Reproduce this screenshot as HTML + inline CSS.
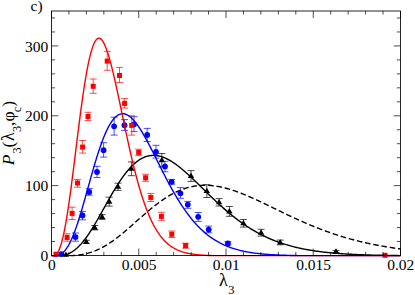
<!DOCTYPE html>
<html><head><meta charset="utf-8"><title>c</title><style>html,body{margin:0;padding:0;background:#fff;overflow:hidden;font-family:"Liberation Serif",serif}svg{display:block}</style></head><body>
<svg width="415" height="295" viewBox="0 0 415 295">
<rect width="415" height="295" fill="#fff"/>
<path d="M51.50,255.60 L52.37,255.60 L53.24,255.60 L54.12,255.60 L54.99,255.60 L55.86,255.60 L56.73,255.60 L57.61,255.60 L58.48,255.60 L59.35,255.60 L60.23,255.60 L61.10,255.60 L61.97,255.60 L62.84,255.60 L63.72,255.60 L64.59,255.60 L65.46,255.60 L66.33,255.60 L67.20,255.60 L68.08,255.60 L68.95,255.60 L69.82,255.60 L70.70,255.60 L71.57,255.60 L72.44,255.59 L73.31,255.53 L74.19,255.47 L75.06,255.40 L75.93,255.32 L76.80,255.23 L77.67,255.13 L78.55,255.03 L79.42,254.91 L80.29,254.79 L81.17,254.65 L82.04,254.51 L82.91,254.35 L83.78,254.18 L84.66,254.00 L85.53,253.81 L86.40,253.60 L87.27,253.39 L88.15,253.16 L89.02,252.91 L89.89,252.66 L90.76,252.38 L91.64,252.10 L92.51,251.80 L93.38,251.49 L94.25,251.16 L95.12,250.82 L96.00,250.47 L96.87,250.10 L97.74,249.71 L98.62,249.31 L99.49,248.90 L100.36,248.47 L101.23,248.03 L102.11,247.58 L102.98,247.11 L103.85,246.63 L104.72,246.13 L105.59,245.62 L106.47,245.09 L107.34,244.56 L108.21,244.01 L109.09,243.44 L109.96,242.87 L110.83,242.28 L111.70,241.68 L112.57,241.07 L113.45,240.45 L114.32,239.82 L115.19,239.17 L116.06,238.52 L116.94,237.86 L117.81,237.18 L118.68,236.50 L119.56,235.81 L120.43,235.11 L121.30,234.41 L122.17,233.69 L123.05,232.97 L123.92,232.24 L124.79,231.51 L125.66,230.77 L126.53,230.02 L127.41,229.27 L128.28,228.52 L129.15,227.76 L130.03,227.00 L130.90,226.23 L131.77,225.46 L132.64,224.69 L133.51,223.92 L134.39,223.15 L135.26,222.37 L136.13,221.60 L137.00,220.82 L137.88,220.05 L138.75,219.28 L139.62,218.50 L140.50,217.73 L141.37,216.97 L142.24,216.20 L143.11,215.44 L143.99,214.68 L144.86,213.92 L145.73,213.17 L146.60,212.43 L147.48,211.69 L148.35,210.95 L149.22,210.22 L150.09,209.50 L150.97,208.78 L151.84,208.07 L152.71,207.36 L153.58,206.67 L154.46,205.98 L155.33,205.30 L156.20,204.62 L157.07,203.96 L157.95,203.30 L158.82,202.66 L159.69,202.02 L160.56,201.39 L161.44,200.78 L162.31,200.17 L163.18,199.57 L164.05,198.99 L164.93,198.41 L165.80,197.85 L166.67,197.29 L167.54,196.75 L168.42,196.22 L169.29,195.70 L170.16,195.20 L171.03,194.70 L171.91,194.22 L172.78,193.75 L173.65,193.29 L174.52,192.84 L175.40,192.41 L176.27,191.99 L177.14,191.58 L178.01,191.18 L178.89,190.80 L179.76,190.43 L180.63,190.07 L181.50,189.73 L182.38,189.40 L183.25,189.08 L184.12,188.78 L184.99,188.48 L185.87,188.20 L186.74,187.94 L187.61,187.68 L188.48,187.44 L189.36,187.22 L190.23,187.00 L191.10,186.80 L191.97,186.61 L192.84,186.44 L193.72,186.27 L194.59,186.12 L195.46,185.98 L196.34,185.86 L197.21,185.75 L198.08,185.64 L198.95,185.56 L199.82,185.48 L200.70,185.41 L201.57,185.36 L202.44,185.32 L203.32,185.29 L204.19,185.28 L205.06,185.27 L205.93,185.28 L206.81,185.29 L207.68,185.32 L208.55,185.36 L209.42,185.41 L210.29,185.47 L211.17,185.54 L212.04,185.62 L212.91,185.71 L213.78,185.82 L214.66,185.93 L215.53,186.05 L216.40,186.18 L217.28,186.32 L218.15,186.47 L219.02,186.63 L219.89,186.80 L220.77,186.98 L221.64,187.17 L222.51,187.36 L223.38,187.56 L224.25,187.78 L225.13,188.00 L226.00,188.22 L226.87,188.46 L227.75,188.70 L228.62,188.95 L229.49,189.21 L230.36,189.47 L231.24,189.75 L232.11,190.02 L232.98,190.31 L233.85,190.60 L234.72,190.90 L235.60,191.20 L236.47,191.51 L237.34,191.83 L238.22,192.15 L239.09,192.47 L239.96,192.81 L240.83,193.14 L241.71,193.48 L242.58,193.83 L243.45,194.18 L244.32,194.54 L245.20,194.90 L246.07,195.26 L246.94,195.63 L247.81,196.00 L248.69,196.38 L249.56,196.76 L250.43,197.14 L251.30,197.53 L252.17,197.91 L253.05,198.31 L253.92,198.70 L254.79,199.10 L255.67,199.50 L256.54,199.90 L257.41,200.31 L258.28,200.71 L259.15,201.12 L260.03,201.53 L260.90,201.95 L261.77,202.36 L262.65,202.78 L263.52,203.19 L264.39,203.61 L265.26,204.03 L266.13,204.45 L267.01,204.87 L267.88,205.30 L268.75,205.72 L269.62,206.14 L270.50,206.57 L271.37,206.99 L272.24,207.42 L273.12,207.84 L273.99,208.27 L274.86,208.69 L275.73,209.12 L276.61,209.54 L277.48,209.97 L278.35,210.39 L279.22,210.82 L280.10,211.24 L280.97,211.66 L281.84,212.09 L282.71,212.51 L283.59,212.93 L284.46,213.35 L285.33,213.76 L286.20,214.18 L287.08,214.60 L287.95,215.01 L288.82,215.43 L289.69,215.84 L290.57,216.25 L291.44,216.66 L292.31,217.07 L293.18,217.47 L294.06,217.88 L294.93,218.28 L295.80,218.68 L296.67,219.08 L297.55,219.48 L298.42,219.87 L299.29,220.27 L300.16,220.66 L301.04,221.05 L301.91,221.44 L302.78,221.82 L303.65,222.21 L304.52,222.59 L305.40,222.96 L306.27,223.34 L307.14,223.72 L308.02,224.09 L308.89,224.46 L309.76,224.82 L310.63,225.19 L311.50,225.55 L312.38,225.91 L313.25,226.27 L314.12,226.62 L315.00,226.97 L315.87,227.32 L316.74,227.67 L317.61,228.01 L318.49,228.36 L319.36,228.69 L320.23,229.03 L321.10,229.36 L321.98,229.70 L322.85,230.02 L323.72,230.35 L324.59,230.67 L325.47,230.99 L326.34,231.31 L327.21,231.62 L328.08,231.94 L328.96,232.25 L329.83,232.55 L330.70,232.86 L331.57,233.16 L332.44,233.45 L333.32,233.75 L334.19,234.04 L335.06,234.33 L335.94,234.62 L336.81,234.90 L337.68,235.18 L338.55,235.46 L339.43,235.74 L340.30,236.01 L341.17,236.28 L342.04,236.55 L342.91,236.82 L343.79,237.08 L344.66,237.34 L345.53,237.59 L346.41,237.85 L347.28,238.10 L348.15,238.35 L349.02,238.60 L349.90,238.84 L350.77,239.08 L351.64,239.32 L352.51,239.55 L353.38,239.79 L354.26,240.02 L355.13,240.24 L356.00,240.47 L356.88,240.69 L357.75,240.91 L358.62,241.13 L359.49,241.35 L360.37,241.56 L361.24,241.77 L362.11,241.98 L362.98,242.18 L363.86,242.38 L364.73,242.58 L365.60,242.78 L366.47,242.98 L367.35,243.17 L368.22,243.36 L369.09,243.55 L369.96,243.73 L370.84,243.92 L371.71,244.10 L372.58,244.28 L373.45,244.46 L374.32,244.63 L375.20,244.80 L376.07,244.97 L376.94,245.14 L377.81,245.31 L378.69,245.47 L379.56,245.63 L380.43,245.79 L381.31,245.95 L382.18,246.10 L383.05,246.26 L383.92,246.41 L384.80,246.56 L385.67,246.70 L386.54,246.85 L387.41,246.99 L388.29,247.13 L389.16,247.27 L390.03,247.41 L390.90,247.55 L391.77,247.68 L392.65,247.81 L393.52,247.94 L394.39,248.07 L395.27,248.20 L396.14,248.32 L397.01,248.44 L397.88,248.57 L398.76,248.69 L399.63,248.80 L400.50,248.92" stroke="#000" fill="none" stroke-width="1.4" stroke-linejoin="round" stroke-dasharray="5.6 2.79" stroke-dashoffset="6.8"/>
<path d="M86.3,240.3V243.5M82.8,240.3h7M82.8,243.5h7M94.8,225.5V229.9M91.3,225.5h7M91.3,229.9h7M102.1,214.6V219.4M98.6,214.6h7M98.6,219.4h7M109.2,197.2V206.1M105.7,197.2h7M105.7,206.1h7M118.0,183.2V190.4M114.5,183.2h7M114.5,190.4h7M131.4,161.9V175.7M127.9,161.9h7M127.9,175.7h7M161.8,153.5V167.0M158.3,153.5h7M158.3,167.0h7M191.0,170.6V181.4M187.5,170.6h7M187.5,181.4h7M206.8,184.7V197.5M203.3,184.7h7M203.3,197.5h7M219.1,198.6V206.0M215.6,198.6h7M215.6,206.0h7M229.4,206.5V216.3M225.9,206.5h7M225.9,216.3h7M243.4,219.5V227.1M239.9,219.5h7M239.9,227.1h7M261.1,229.3V236.1M257.6,229.3h7M257.6,236.1h7M280.2,240.1V244.8M276.8,240.1h7M276.8,244.8h7M336.0,250.4V252.8M332.5,250.4h7M332.5,252.8h7" stroke="#000" stroke-width="0.7" fill="none"/>
<g fill="#000"><path d="M65.9,251.4l3.2,5.4h-6.4z"/><path d="M86.3,238.5l3.2,5.4h-6.4z"/><path d="M94.8,224.3l3.2,5.4h-6.4z"/><path d="M102.1,213.6l3.2,5.4h-6.4z"/><path d="M109.2,198.3l3.2,5.4h-6.4z"/><path d="M118.0,183.4l3.2,5.4h-6.4z"/><path d="M131.4,165.4l3.2,5.4h-6.4z"/><path d="M161.8,156.8l3.2,5.4h-6.4z"/><path d="M191.0,172.6l3.2,5.4h-6.4z"/><path d="M206.8,187.7l3.2,5.4h-6.4z"/><path d="M219.1,198.9l3.2,5.4h-6.4z"/><path d="M229.4,208.0l3.2,5.4h-6.4z"/><path d="M243.4,219.9l3.2,5.4h-6.4z"/><path d="M261.1,229.3l3.2,5.4h-6.4z"/><path d="M280.2,239.0l3.2,5.4h-6.4z"/><path d="M336.0,248.2l3.2,5.4h-6.4z"/></g>
<path d="M75.5,233.0V241.2M72.0,233.0h7M72.0,241.2h7M82.5,211.4V219.8M79.0,211.4h7M79.0,219.8h7M89.2,188.6V195.2M85.7,188.6h7M85.7,195.2h7M97.0,166.3V177.5M93.5,166.3h7M93.5,177.5h7M103.6,142.7V157.1M100.1,142.7h7M100.1,157.1h7M114.1,117.2V135.1M110.6,117.2h7M110.6,135.1h7M124.5,119.6V130.4M121.0,119.6h7M121.0,130.4h7M134.0,116.7V131.6M130.5,116.7h7M130.5,131.6h7M147.2,128.4V141.5M143.7,128.4h7M143.7,141.5h7M156.0,145.3V158.1M152.5,145.3h7M152.5,158.1h7M165.0,161.3V171.8M161.5,161.3h7M161.5,171.8h7M171.7,179.4V184.2M168.2,179.4h7M168.2,184.2h7M180.4,187.6V198.3M176.9,187.6h7M176.9,198.3h7M187.8,201.4V208.3M184.3,201.4h7M184.3,208.3h7M198.2,212.5V221.4M194.7,212.5h7M194.7,221.4h7M208.7,226.1V232.8M205.2,226.1h7M205.2,232.8h7M227.9,241.8V245.0M224.4,241.8h7M224.4,245.0h7" stroke="#00f" stroke-width="0.7" fill="none"/>
<g fill="#00f"><circle cx="61.2" cy="254.1" r="2.9"/><circle cx="75.5" cy="237.1" r="2.9"/><circle cx="82.5" cy="215.4" r="2.9"/><circle cx="89.2" cy="192.0" r="2.9"/><circle cx="97.0" cy="171.9" r="2.9"/><circle cx="103.6" cy="150.2" r="2.9"/><circle cx="114.1" cy="126.3" r="2.9"/><circle cx="124.5" cy="125.2" r="2.9"/><circle cx="134.0" cy="124.3" r="2.9"/><circle cx="147.2" cy="135.0" r="2.9"/><circle cx="156.0" cy="151.9" r="2.9"/><circle cx="165.0" cy="166.4" r="2.9"/><circle cx="171.7" cy="181.8" r="2.9"/><circle cx="180.4" cy="193.3" r="2.9"/><circle cx="187.8" cy="204.6" r="2.9"/><circle cx="198.2" cy="216.8" r="2.9"/><circle cx="208.7" cy="229.6" r="2.9"/><circle cx="227.9" cy="243.4" r="2.9"/></g>
<path d="M67.1,233.8V241.2M63.6,233.8h7M63.6,241.2h7M72.1,207.2V219.5M68.6,207.2h7M68.6,219.5h7M77.5,179.4V187.2M74.0,179.4h7M74.0,187.2h7M82.6,140.5V153.1M79.1,140.5h7M79.1,153.1h7M88.0,112.3V120.6M84.5,112.3h7M84.5,120.6h7M93.2,79.0V93.3M89.7,79.0h7M89.7,93.3h7M107.2,51.4V70.3M103.7,51.4h7M103.7,70.3h7M119.5,67.4V82.6M116.0,67.4h7M116.0,82.6h7M124.6,98.6V108.1M121.1,98.6h7M121.1,108.1h7M131.7,115.8V135.1M128.2,115.8h7M128.2,135.1h7M138.7,149.2V155.4M135.2,149.2h7M135.2,155.4h7M145.6,174.3V181.3M142.1,174.3h7M142.1,181.3h7M150.8,193.4V201.5M147.3,193.4h7M147.3,201.5h7M161.4,212.3V220.3M157.9,212.3h7M157.9,220.3h7M171.8,231.0V237.5M168.3,231.0h7M168.3,237.5h7M185.6,243.2V248.2M182.1,243.2h7M182.1,248.2h7" stroke="#f00" stroke-width="0.7" fill="none"/>
<g fill="#f00"><rect x="53.5" y="251.7" width="5" height="5"/><rect x="64.6" y="235.0" width="5" height="5"/><rect x="69.6" y="210.9" width="5" height="5"/><rect x="75.0" y="180.5" width="5" height="5"/><rect x="80.1" y="144.6" width="5" height="5"/><rect x="85.5" y="114.0" width="5" height="5"/><rect x="90.7" y="83.8" width="5" height="5"/><rect x="104.7" y="58.6" width="5" height="5"/><rect x="117.0" y="73.0" width="5" height="5"/><rect x="122.1" y="100.9" width="5" height="5"/><rect x="129.2" y="122.9" width="5" height="5"/><rect x="136.2" y="149.9" width="5" height="5"/><rect x="143.1" y="175.3" width="5" height="5"/><rect x="148.3" y="194.9" width="5" height="5"/><rect x="158.9" y="213.9" width="5" height="5"/><rect x="169.3" y="231.8" width="5" height="5"/><rect x="183.1" y="243.1" width="5" height="5"/><rect x="382.5" y="252.8" width="5" height="5"/></g>
<path d="M51.50,255.60 L52.37,255.60 L53.24,255.60 L54.12,255.60 L54.99,255.60 L55.86,255.60 L56.73,255.60 L57.61,255.60 L58.48,255.60 L59.35,255.60 L60.23,255.60 L61.10,255.55 L61.97,255.43 L62.84,255.28 L63.72,255.11 L64.59,254.91 L65.46,254.68 L66.33,254.42 L67.20,254.12 L68.08,253.79 L68.95,253.42 L69.82,253.01 L70.70,252.56 L71.57,252.07 L72.44,251.54 L73.31,250.96 L74.19,250.35 L75.06,249.69 L75.93,248.98 L76.80,248.24 L77.67,247.45 L78.55,246.62 L79.42,245.74 L80.29,244.83 L81.17,243.87 L82.04,242.87 L82.91,241.83 L83.78,240.75 L84.66,239.64 L85.53,238.48 L86.40,237.29 L87.27,236.07 L88.15,234.81 L89.02,233.53 L89.89,232.21 L90.76,230.86 L91.64,229.49 L92.51,228.09 L93.38,226.66 L94.25,225.22 L95.12,223.75 L96.00,222.27 L96.87,220.77 L97.74,219.25 L98.62,217.72 L99.49,216.18 L100.36,214.63 L101.23,213.08 L102.11,211.51 L102.98,209.95 L103.85,208.38 L104.72,206.81 L105.59,205.24 L106.47,203.68 L107.34,202.12 L108.21,200.57 L109.09,199.03 L109.96,197.49 L110.83,195.97 L111.70,194.46 L112.57,192.96 L113.45,191.48 L114.32,190.02 L115.19,188.58 L116.06,187.15 L116.94,185.75 L117.81,184.37 L118.68,183.01 L119.56,181.68 L120.43,180.38 L121.30,179.10 L122.17,177.85 L123.05,176.62 L123.92,175.43 L124.79,174.27 L125.66,173.14 L126.53,172.03 L127.41,170.97 L128.28,169.93 L129.15,168.93 L130.03,167.97 L130.90,167.03 L131.77,166.14 L132.64,165.27 L133.51,164.45 L134.39,163.66 L135.26,162.90 L136.13,162.18 L137.00,161.50 L137.88,160.86 L138.75,160.25 L139.62,159.68 L140.50,159.14 L141.37,158.65 L142.24,158.18 L143.11,157.76 L143.99,157.37 L144.86,157.01 L145.73,156.70 L146.60,156.41 L147.48,156.17 L148.35,155.95 L149.22,155.78 L150.09,155.63 L150.97,155.52 L151.84,155.45 L152.71,155.40 L153.58,155.39 L154.46,155.41 L155.33,155.46 L156.20,155.55 L157.07,155.66 L157.95,155.80 L158.82,155.98 L159.69,156.18 L160.56,156.41 L161.44,156.66 L162.31,156.95 L163.18,157.26 L164.05,157.59 L164.93,157.96 L165.80,158.34 L166.67,158.75 L167.54,159.18 L168.42,159.64 L169.29,160.11 L170.16,160.61 L171.03,161.13 L171.91,161.67 L172.78,162.23 L173.65,162.80 L174.52,163.40 L175.40,164.01 L176.27,164.64 L177.14,165.28 L178.01,165.94 L178.89,166.62 L179.76,167.30 L180.63,168.01 L181.50,168.72 L182.38,169.45 L183.25,170.19 L184.12,170.93 L184.99,171.69 L185.87,172.46 L186.74,173.24 L187.61,174.03 L188.48,174.83 L189.36,175.63 L190.23,176.44 L191.10,177.26 L191.97,178.08 L192.84,178.91 L193.72,179.74 L194.59,180.58 L195.46,181.42 L196.34,182.27 L197.21,183.11 L198.08,183.97 L198.95,184.82 L199.82,185.67 L200.70,186.53 L201.57,187.39 L202.44,188.24 L203.32,189.10 L204.19,189.96 L205.06,190.82 L205.93,191.67 L206.81,192.53 L207.68,193.38 L208.55,194.23 L209.42,195.08 L210.29,195.92 L211.17,196.76 L212.04,197.60 L212.91,198.44 L213.78,199.27 L214.66,200.10 L215.53,200.92 L216.40,201.74 L217.28,202.56 L218.15,203.37 L219.02,204.17 L219.89,204.97 L220.77,205.76 L221.64,206.55 L222.51,207.33 L223.38,208.11 L224.25,208.88 L225.13,209.64 L226.00,210.40 L226.87,211.15 L227.75,211.89 L228.62,212.63 L229.49,213.35 L230.36,214.08 L231.24,214.79 L232.11,215.50 L232.98,216.20 L233.85,216.89 L234.72,217.58 L235.60,218.25 L236.47,218.92 L237.34,219.59 L238.22,220.24 L239.09,220.89 L239.96,221.53 L240.83,222.16 L241.71,222.78 L242.58,223.40 L243.45,224.00 L244.32,224.60 L245.20,225.19 L246.07,225.78 L246.94,226.35 L247.81,226.92 L248.69,227.48 L249.56,228.03 L250.43,228.58 L251.30,229.11 L252.17,229.64 L253.05,230.16 L253.92,230.67 L254.79,231.18 L255.67,231.68 L256.54,232.17 L257.41,232.65 L258.28,233.12 L259.15,233.59 L260.03,234.05 L260.90,234.50 L261.77,234.95 L262.65,235.38 L263.52,235.81 L264.39,236.24 L265.26,236.65 L266.13,237.06 L267.01,237.46 L267.88,237.86 L268.75,238.25 L269.62,238.63 L270.50,239.00 L271.37,239.37 L272.24,239.73 L273.12,240.09 L273.99,240.43 L274.86,240.78 L275.73,241.11 L276.61,241.44 L277.48,241.77 L278.35,242.08 L279.22,242.39 L280.10,242.70 L280.97,243.00 L281.84,243.29 L282.71,243.58 L283.59,243.86 L284.46,244.14 L285.33,244.41 L286.20,244.68 L287.08,244.94 L287.95,245.20 L288.82,245.45 L289.69,245.69 L290.57,245.93 L291.44,246.17 L292.31,246.40 L293.18,246.62 L294.06,246.85 L294.93,247.06 L295.80,247.27 L296.67,247.48 L297.55,247.69 L298.42,247.88 L299.29,248.08 L300.16,248.27 L301.04,248.46 L301.91,248.64 L302.78,248.82 L303.65,248.99 L304.52,249.16 L305.40,249.33 L306.27,249.49 L307.14,249.65 L308.02,249.81 L308.89,249.96 L309.76,250.11 L310.63,250.26 L311.50,250.40 L312.38,250.54 L313.25,250.68 L314.12,250.81 L315.00,250.94 L315.87,251.07 L316.74,251.19 L317.61,251.31 L318.49,251.43 L319.36,251.54 L320.23,251.66 L321.10,251.77 L321.98,251.88 L322.85,251.98 L323.72,252.08 L324.59,252.18 L325.47,252.28 L326.34,252.38 L327.21,252.47 L328.08,252.56 L328.96,252.65 L329.83,252.74 L330.70,252.82 L331.57,252.90 L332.44,252.98 L333.32,253.06 L334.19,253.14 L335.06,253.21 L335.94,253.28 L336.81,253.36 L337.68,253.42 L338.55,253.49 L339.43,253.56 L340.30,253.62 L341.17,253.68 L342.04,253.74 L342.91,253.80 L343.79,253.86 L344.66,253.92 L345.53,253.97 L346.41,254.03 L347.28,254.08 L348.15,254.13 L349.02,254.18 L349.90,254.23 L350.77,254.27 L351.64,254.32 L352.51,254.36 L353.38,254.41 L354.26,254.45 L355.13,254.49 L356.00,254.53 L356.88,254.57 L357.75,254.61 L358.62,254.64 L359.49,254.68 L360.37,254.71 L361.24,254.75 L362.11,254.78 L362.98,254.81 L363.86,254.84 L364.73,254.87 L365.60,254.90 L366.47,254.93 L367.35,254.96 L368.22,254.99 L369.09,255.01 L369.96,255.04 L370.84,255.07 L371.71,255.09 L372.58,255.11 L373.45,255.14 L374.32,255.16 L375.20,255.18 L376.07,255.20 L376.94,255.22 L377.81,255.24 L378.69,255.26 L379.56,255.28 L380.43,255.30 L381.31,255.32 L382.18,255.33 L383.05,255.35 L383.92,255.37 L384.80,255.38 L385.67,255.40 L386.54,255.41 L387.41,255.43 L388.29,255.44 L389.16,255.46 L390.03,255.47 L390.90,255.48 L391.77,255.50 L392.65,255.51 L393.52,255.52 L394.39,255.53 L395.27,255.54 L396.14,255.55 L397.01,255.56 L397.88,255.57 L398.76,255.58 L399.63,255.59 L400.50,255.60" stroke="#000" fill="none" stroke-width="1.4" stroke-linejoin="round"/>
<path d="M51.50,255.60 L52.37,255.60 L53.24,255.60 L54.12,255.60 L54.99,255.60 L55.86,255.60 L56.73,255.60 L57.61,255.43 L58.48,255.18 L59.35,254.86 L60.23,254.45 L61.10,253.96 L61.97,253.36 L62.84,252.67 L63.72,251.86 L64.59,250.94 L65.46,249.90 L66.33,248.74 L67.20,247.46 L68.08,246.06 L68.95,244.53 L69.82,242.88 L70.70,241.11 L71.57,239.23 L72.44,237.22 L73.31,235.11 L74.19,232.88 L75.06,230.56 L75.93,228.13 L76.80,225.61 L77.67,222.99 L78.55,220.30 L79.42,217.53 L80.29,214.70 L81.17,211.80 L82.04,208.84 L82.91,205.84 L83.78,202.80 L84.66,199.72 L85.53,196.62 L86.40,193.49 L87.27,190.36 L88.15,187.22 L89.02,184.08 L89.89,180.95 L90.76,177.84 L91.64,174.75 L92.51,171.69 L93.38,168.67 L94.25,165.68 L95.12,162.75 L96.00,159.86 L96.87,157.04 L97.74,154.27 L98.62,151.58 L99.49,148.95 L100.36,146.40 L101.23,143.93 L102.11,141.55 L102.98,139.25 L103.85,137.04 L104.72,134.92 L105.59,132.90 L106.47,130.97 L107.34,129.14 L108.21,127.41 L109.09,125.79 L109.96,124.26 L110.83,122.84 L111.70,121.52 L112.57,120.31 L113.45,119.20 L114.32,118.20 L115.19,117.30 L116.06,116.50 L116.94,115.81 L117.81,115.22 L118.68,114.73 L119.56,114.33 L120.43,114.04 L121.30,113.84 L122.17,113.74 L123.05,113.73 L123.92,113.81 L124.79,113.98 L125.66,114.24 L126.53,114.58 L127.41,115.00 L128.28,115.51 L129.15,116.09 L130.03,116.75 L130.90,117.48 L131.77,118.28 L132.64,119.15 L133.51,120.08 L134.39,121.08 L135.26,122.13 L136.13,123.24 L137.00,124.41 L137.88,125.63 L138.75,126.89 L139.62,128.21 L140.50,129.56 L141.37,130.96 L142.24,132.40 L143.11,133.87 L143.99,135.38 L144.86,136.92 L145.73,138.48 L146.60,140.07 L147.48,141.69 L148.35,143.33 L149.22,144.99 L150.09,146.66 L150.97,148.35 L151.84,150.06 L152.71,151.77 L153.58,153.49 L154.46,155.23 L155.33,156.96 L156.20,158.70 L157.07,160.45 L157.95,162.19 L158.82,163.93 L159.69,165.67 L160.56,167.41 L161.44,169.13 L162.31,170.86 L163.18,172.57 L164.05,174.28 L164.93,175.97 L165.80,177.66 L166.67,179.33 L167.54,180.98 L168.42,182.63 L169.29,184.25 L170.16,185.86 L171.03,187.46 L171.91,189.04 L172.78,190.59 L173.65,192.13 L174.52,193.65 L175.40,195.15 L176.27,196.63 L177.14,198.09 L178.01,199.53 L178.89,200.94 L179.76,202.33 L180.63,203.71 L181.50,205.05 L182.38,206.38 L183.25,207.68 L184.12,208.96 L184.99,210.22 L185.87,211.45 L186.74,212.66 L187.61,213.85 L188.48,215.01 L189.36,216.16 L190.23,217.27 L191.10,218.37 L191.97,219.44 L192.84,220.49 L193.72,221.51 L194.59,222.52 L195.46,223.50 L196.34,224.46 L197.21,225.39 L198.08,226.31 L198.95,227.20 L199.82,228.08 L200.70,228.93 L201.57,229.76 L202.44,230.57 L203.32,231.36 L204.19,232.13 L205.06,232.88 L205.93,233.61 L206.81,234.32 L207.68,235.01 L208.55,235.68 L209.42,236.34 L210.29,236.98 L211.17,237.60 L212.04,238.20 L212.91,238.79 L213.78,239.36 L214.66,239.91 L215.53,240.45 L216.40,240.98 L217.28,241.48 L218.15,241.98 L219.02,242.45 L219.89,242.92 L220.77,243.37 L221.64,243.81 L222.51,244.23 L223.38,244.64 L224.25,245.04 L225.13,245.42 L226.00,245.80 L226.87,246.16 L227.75,246.51 L228.62,246.85 L229.49,247.17 L230.36,247.49 L231.24,247.80 L232.11,248.10 L232.98,248.38 L233.85,248.66 L234.72,248.93 L235.60,249.19 L236.47,249.44 L237.34,249.68 L238.22,249.92 L239.09,250.14 L239.96,250.36 L240.83,250.57 L241.71,250.78 L242.58,250.97 L243.45,251.16 L244.32,251.35 L245.20,251.52 L246.07,251.69 L246.94,251.86 L247.81,252.02 L248.69,252.17 L249.56,252.32 L250.43,252.46 L251.30,252.60 L252.17,252.73 L253.05,252.85 L253.92,252.98 L254.79,253.09 L255.67,253.21 L256.54,253.32 L257.41,253.42 L258.28,253.52 L259.15,253.62 L260.03,253.71 L260.90,253.80 L261.77,253.89 L262.65,253.97 L263.52,254.05 L264.39,254.13 L265.26,254.20 L266.13,254.27 L267.01,254.34 L267.88,254.41 L268.75,254.47 L269.62,254.53 L270.50,254.59 L271.37,254.64 L272.24,254.70 L273.12,254.75 L273.99,254.80 L274.86,254.85 L275.73,254.89 L276.61,254.93 L277.48,254.98 L278.35,255.02 L279.22,255.05 L280.10,255.09 L280.97,255.13 L281.84,255.16 L282.71,255.19 L283.59,255.22 L284.46,255.25 L285.33,255.28 L286.20,255.31 L287.08,255.34 L287.95,255.36 L288.82,255.39 L289.69,255.41 L290.57,255.43 L291.44,255.45 L292.31,255.47 L293.18,255.49 L294.06,255.51 L294.93,255.53 L295.80,255.54 L296.67,255.56 L297.55,255.58 L298.42,255.59 L299.29,255.60 L300.16,255.60 L301.04,255.60 L301.91,255.60 L302.78,255.60 L303.65,255.60 L304.52,255.60 L305.40,255.60 L306.27,255.60 L307.14,255.60 L308.02,255.60 L308.89,255.60 L309.76,255.60 L310.63,255.60 L311.50,255.60 L312.38,255.60 L313.25,255.60 L314.12,255.60 L315.00,255.60 L315.87,255.60 L316.74,255.60 L317.61,255.60 L318.49,255.60 L319.36,255.60 L320.23,255.60 L321.10,255.60 L321.98,255.60 L322.85,255.60 L323.72,255.60 L324.59,255.60 L325.47,255.60 L326.34,255.60 L327.21,255.60 L328.08,255.60 L328.96,255.60 L329.83,255.60 L330.70,255.60 L331.57,255.60 L332.44,255.60 L333.32,255.60 L334.19,255.60 L335.06,255.60 L335.94,255.60 L336.81,255.60 L337.68,255.60 L338.55,255.60 L339.43,255.60 L340.30,255.60 L341.17,255.60 L342.04,255.60 L342.91,255.60 L343.79,255.60 L344.66,255.60 L345.53,255.60 L346.41,255.60 L347.28,255.60 L348.15,255.60 L349.02,255.60 L349.90,255.60 L350.77,255.60 L351.64,255.60 L352.51,255.60 L353.38,255.60 L354.26,255.60 L355.13,255.60 L356.00,255.60 L356.88,255.60 L357.75,255.60 L358.62,255.60 L359.49,255.60 L360.37,255.60 L361.24,255.60 L362.11,255.60 L362.98,255.60 L363.86,255.60 L364.73,255.60 L365.60,255.60 L366.47,255.60 L367.35,255.60 L368.22,255.60 L369.09,255.60 L369.96,255.60 L370.84,255.60 L371.71,255.60 L372.58,255.60 L373.45,255.60 L374.32,255.60 L375.20,255.60 L376.07,255.60 L376.94,255.60 L377.81,255.60 L378.69,255.60 L379.56,255.60 L380.43,255.60 L381.31,255.60 L382.18,255.60 L383.05,255.60 L383.92,255.60 L384.80,255.60 L385.67,255.60 L386.54,255.60 L387.41,255.60 L388.29,255.60 L389.16,255.60 L390.03,255.60 L390.90,255.60 L391.77,255.60 L392.65,255.60 L393.52,255.60 L394.39,255.60 L395.27,255.60 L396.14,255.60 L397.01,255.60 L397.88,255.60 L398.76,255.60 L399.63,255.60 L400.50,255.60" stroke="#00f" fill="none" stroke-width="1.4" stroke-linejoin="round"/>
<path d="M51.50,255.60 L52.37,255.60 L53.24,255.60 L54.12,255.60 L54.99,255.23 L55.86,254.62 L56.73,253.74 L57.61,252.55 L58.48,251.02 L59.35,249.13 L60.23,246.86 L61.10,244.20 L61.97,241.13 L62.84,237.67 L63.72,233.81 L64.59,229.57 L65.46,224.95 L66.33,219.97 L67.20,214.66 L68.08,209.03 L68.95,203.12 L69.82,196.95 L70.70,190.55 L71.57,183.95 L72.44,177.20 L73.31,170.31 L74.19,163.33 L75.06,156.30 L75.93,149.23 L76.80,142.18 L77.67,135.16 L78.55,128.23 L79.42,121.39 L80.29,114.69 L81.17,108.15 L82.04,101.80 L82.91,95.67 L83.78,89.77 L84.66,84.13 L85.53,78.76 L86.40,73.69 L87.27,68.92 L88.15,64.48 L89.02,60.36 L89.89,56.59 L90.76,53.16 L91.64,50.09 L92.51,47.37 L93.38,45.01 L94.25,43.01 L95.12,41.36 L96.00,40.06 L96.87,39.12 L97.74,38.51 L98.62,38.24 L99.49,38.29 L100.36,38.66 L101.23,39.34 L102.11,40.32 L102.98,41.57 L103.85,43.11 L104.72,44.90 L105.59,46.93 L106.47,49.20 L107.34,51.69 L108.21,54.39 L109.09,57.27 L109.96,60.33 L110.83,63.56 L111.70,66.93 L112.57,70.44 L113.45,74.07 L114.32,77.81 L115.19,81.64 L116.06,85.56 L116.94,89.54 L117.81,93.59 L118.68,97.68 L119.56,101.81 L120.43,105.96 L121.30,110.13 L122.17,114.30 L123.05,118.47 L123.92,122.62 L124.79,126.76 L125.66,130.87 L126.53,134.94 L127.41,138.97 L128.28,142.96 L129.15,146.89 L130.03,150.76 L130.90,154.57 L131.77,158.31 L132.64,161.98 L133.51,165.58 L134.39,169.10 L135.26,172.54 L136.13,175.90 L137.00,179.17 L137.88,182.36 L138.75,185.46 L139.62,188.47 L140.50,191.40 L141.37,194.24 L142.24,196.99 L143.11,199.65 L143.99,202.23 L144.86,204.72 L145.73,207.12 L146.60,209.43 L147.48,211.67 L148.35,213.81 L149.22,215.88 L150.09,217.87 L150.97,219.78 L151.84,221.61 L152.71,223.37 L153.58,225.05 L154.46,226.66 L155.33,228.21 L156.20,229.68 L157.07,231.09 L157.95,232.44 L158.82,233.72 L159.69,234.95 L160.56,236.11 L161.44,237.23 L162.31,238.28 L163.18,239.29 L164.05,240.25 L164.93,241.15 L165.80,242.02 L166.67,242.83 L167.54,243.61 L168.42,244.35 L169.29,245.04 L170.16,245.70 L171.03,246.32 L171.91,246.91 L172.78,247.47 L173.65,248.00 L174.52,248.49 L175.40,248.96 L176.27,249.40 L177.14,249.82 L178.01,250.21 L178.89,250.58 L179.76,250.93 L180.63,251.25 L181.50,251.56 L182.38,251.85 L183.25,252.12 L184.12,252.37 L184.99,252.61 L185.87,252.83 L186.74,253.04 L187.61,253.24 L188.48,253.42 L189.36,253.59 L190.23,253.76 L191.10,253.91 L191.97,254.05 L192.84,254.18 L193.72,254.30 L194.59,254.41 L195.46,254.52 L196.34,254.62 L197.21,254.71 L198.08,254.80 L198.95,254.88 L199.82,254.96 L200.70,255.03 L201.57,255.09 L202.44,255.15 L203.32,255.21 L204.19,255.26 L205.06,255.31 L205.93,255.35 L206.81,255.39 L207.68,255.43 L208.55,255.47 L209.42,255.50 L210.29,255.53 L211.17,255.56 L212.04,255.59 L212.91,255.60 L213.78,255.60 L214.66,255.60 L215.53,255.60 L216.40,255.60 L217.28,255.60 L218.15,255.60 L219.02,255.60 L219.89,255.60 L220.77,255.60 L221.64,255.60 L222.51,255.60 L223.38,255.60 L224.25,255.60 L225.13,255.60 L226.00,255.60 L226.87,255.60 L227.75,255.60 L228.62,255.60 L229.49,255.60 L230.36,255.60 L231.24,255.60 L232.11,255.60 L232.98,255.60 L233.85,255.60 L234.72,255.60 L235.60,255.60 L236.47,255.60 L237.34,255.60 L238.22,255.60 L239.09,255.60 L239.96,255.60 L240.83,255.60 L241.71,255.60 L242.58,255.60 L243.45,255.60 L244.32,255.60 L245.20,255.60 L246.07,255.60 L246.94,255.60 L247.81,255.60 L248.69,255.60 L249.56,255.60 L250.43,255.60 L251.30,255.60 L252.17,255.60 L253.05,255.60 L253.92,255.60 L254.79,255.60 L255.67,255.60 L256.54,255.60 L257.41,255.60 L258.28,255.60 L259.15,255.60 L260.03,255.60 L260.90,255.60 L261.77,255.60 L262.65,255.60 L263.52,255.60 L264.39,255.60 L265.26,255.60 L266.13,255.60 L267.01,255.60 L267.88,255.60 L268.75,255.60 L269.62,255.60 L270.50,255.60 L271.37,255.60 L272.24,255.60 L273.12,255.60 L273.99,255.60 L274.86,255.60 L275.73,255.60 L276.61,255.60 L277.48,255.60 L278.35,255.60 L279.22,255.60 L280.10,255.60 L280.97,255.60 L281.84,255.60 L282.71,255.60 L283.59,255.60 L284.46,255.60 L285.33,255.60 L286.20,255.60 L287.08,255.60 L287.95,255.60 L288.82,255.60 L289.69,255.60 L290.57,255.60 L291.44,255.60 L292.31,255.60 L293.18,255.60 L294.06,255.60 L294.93,255.60 L295.80,255.60 L296.67,255.60 L297.55,255.60 L298.42,255.60 L299.29,255.60 L300.16,255.60 L301.04,255.60 L301.91,255.60 L302.78,255.60 L303.65,255.60 L304.52,255.60 L305.40,255.60 L306.27,255.60 L307.14,255.60 L308.02,255.60 L308.89,255.60 L309.76,255.60 L310.63,255.60 L311.50,255.60 L312.38,255.60 L313.25,255.60 L314.12,255.60 L315.00,255.60 L315.87,255.60 L316.74,255.60 L317.61,255.60 L318.49,255.60 L319.36,255.60 L320.23,255.60 L321.10,255.60 L321.98,255.60 L322.85,255.60 L323.72,255.60 L324.59,255.60 L325.47,255.60 L326.34,255.60 L327.21,255.60 L328.08,255.60 L328.96,255.60 L329.83,255.60 L330.70,255.60 L331.57,255.60 L332.44,255.60 L333.32,255.60 L334.19,255.60 L335.06,255.60 L335.94,255.60 L336.81,255.60 L337.68,255.60 L338.55,255.60 L339.43,255.60 L340.30,255.60 L341.17,255.60 L342.04,255.60 L342.91,255.60 L343.79,255.60 L344.66,255.60 L345.53,255.60 L346.41,255.60 L347.28,255.60 L348.15,255.60 L349.02,255.60 L349.90,255.60 L350.77,255.60 L351.64,255.60 L352.51,255.60 L353.38,255.60 L354.26,255.60 L355.13,255.60 L356.00,255.60 L356.88,255.60 L357.75,255.60 L358.62,255.60 L359.49,255.60 L360.37,255.60 L361.24,255.60 L362.11,255.60 L362.98,255.60 L363.86,255.60 L364.73,255.60 L365.60,255.60 L366.47,255.60 L367.35,255.60 L368.22,255.60 L369.09,255.60 L369.96,255.60 L370.84,255.60 L371.71,255.60 L372.58,255.60 L373.45,255.60 L374.32,255.60 L375.20,255.60 L376.07,255.60 L376.94,255.60 L377.81,255.60 L378.69,255.60 L379.56,255.60 L380.43,255.60 L381.31,255.60 L382.18,255.60 L383.05,255.60 L383.92,255.60 L384.80,255.60 L385.67,255.60 L386.54,255.60 L387.41,255.60 L388.29,255.60 L389.16,255.60 L390.03,255.60 L390.90,255.60 L391.77,255.60 L392.65,255.60 L393.52,255.60 L394.39,255.60 L395.27,255.60 L396.14,255.60 L397.01,255.60 L397.88,255.60 L398.76,255.60 L399.63,255.60 L400.50,255.60" stroke="#f00" fill="none" stroke-width="1.4" stroke-linejoin="round"/>
<path d="M51.50,255.50v-7.0M51.50,11.00v7.0M68.95,255.50v-3.6M68.95,11.00v3.6M86.40,255.50v-3.6M86.40,11.00v3.6M103.85,255.50v-3.6M103.85,11.00v3.6M121.30,255.50v-3.6M121.30,11.00v3.6M138.75,255.50v-7.0M138.75,11.00v7.0M156.20,255.50v-3.6M156.20,11.00v3.6M173.65,255.50v-3.6M173.65,11.00v3.6M191.10,255.50v-3.6M191.10,11.00v3.6M208.55,255.50v-3.6M208.55,11.00v3.6M226.00,255.50v-7.0M226.00,11.00v7.0M243.45,255.50v-3.6M243.45,11.00v3.6M260.90,255.50v-3.6M260.90,11.00v3.6M278.35,255.50v-3.6M278.35,11.00v3.6M295.80,255.50v-3.6M295.80,11.00v3.6M313.25,255.50v-7.0M313.25,11.00v7.0M330.70,255.50v-3.6M330.70,11.00v3.6M348.15,255.50v-3.6M348.15,11.00v3.6M365.60,255.50v-3.6M365.60,11.00v3.6M383.05,255.50v-3.6M383.05,11.00v3.6M400.50,255.50v-7.0M400.50,11.00v7.0M51.50,255.50h6.8M400.50,255.50h-6.8M51.50,241.53h3.6M400.50,241.53h-3.6M51.50,227.56h3.6M400.50,227.56h-3.6M51.50,213.59h3.6M400.50,213.59h-3.6M51.50,199.61h3.6M400.50,199.61h-3.6M51.50,185.64h6.8M400.50,185.64h-6.8M51.50,171.67h3.6M400.50,171.67h-3.6M51.50,157.70h3.6M400.50,157.70h-3.6M51.50,143.73h3.6M400.50,143.73h-3.6M51.50,129.76h3.6M400.50,129.76h-3.6M51.50,115.79h6.8M400.50,115.79h-6.8M51.50,101.81h3.6M400.50,101.81h-3.6M51.50,87.84h3.6M400.50,87.84h-3.6M51.50,73.87h3.6M400.50,73.87h-3.6M51.50,59.90h3.6M400.50,59.90h-3.6M51.50,45.93h6.8M400.50,45.93h-6.8M51.50,31.96h3.6M400.50,31.96h-3.6M51.50,17.99h3.6M400.50,17.99h-3.6" stroke="#000" stroke-width="0.7" fill="none"/>
<rect x="51.50" y="11.00" width="349.00" height="244.50" fill="none" stroke="#000" stroke-width="0.85"/>
<g font-family="'Liberation Serif', serif" font-size="15.5" fill="#000">
<text x="51.9" y="270" text-anchor="middle">0</text>
<text x="139.1" y="270" text-anchor="middle">0.005</text>
<text x="226.2" y="270" text-anchor="middle">0.01</text>
<text x="313.6" y="270" text-anchor="middle">0.015</text>
<text x="400.8" y="270" text-anchor="middle">0.02</text>
<text x="48.2" y="261.1" text-anchor="end">0</text>
<text x="48.2" y="190.85" text-anchor="end">100</text>
<text x="48.2" y="120.9" text-anchor="end">200</text>
<text x="48.2" y="51.6" text-anchor="end">300</text>
<text x="30.5" y="10.8">c)</text>
</g>
<g font-family="'Liberation Serif', serif" fill="#000">
<text x="219" y="286.3" font-size="18">λ</text>
<text x="228.2" y="293.6" font-size="12.4">3</text>
</g>
<g transform="rotate(-90)" font-family="'Liberation Serif', serif" fill="#000">
<text x="-165.3" y="13.9" font-size="17.5" font-style="italic">P</text>
<text x="-153.6" y="21" font-size="12.4">3</text>
<text x="-147.6" y="13.9" font-size="17.5">(</text>
<text x="-141" y="13.9" font-size="18">λ</text>
<text x="-131.9" y="21" font-size="12.4">3</text>
<text x="-125.9" y="13.9" font-size="17.5">,</text>
<text x="-121.4" y="13.9" font-size="17.5">φ</text>
<text x="-112.2" y="21" font-size="12.4">c</text>
<text x="-106.7" y="13.9" font-size="17.5">)</text>
</g>
</svg>
</body></html>
